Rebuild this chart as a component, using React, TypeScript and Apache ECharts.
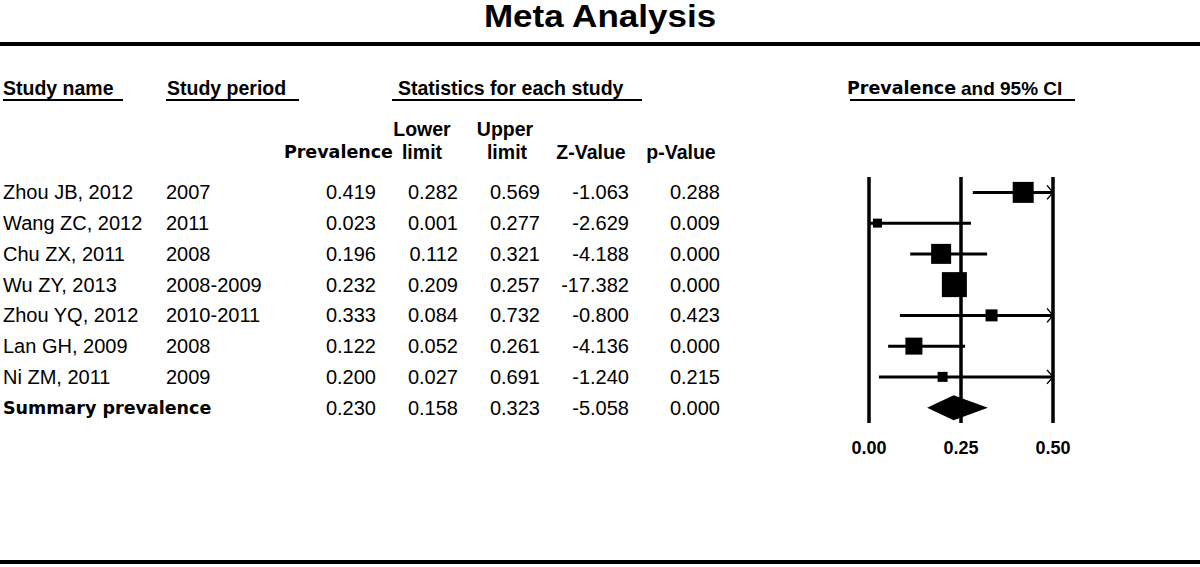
import React, { useEffect, useRef } from "react";
import * as echarts from "echarts";

const studyNames = [
  "Zhou JB, 2012",
  "Wang ZC, 2012",
  "Chu ZX, 2011",
  "Wu ZY, 2013",
  "Zhou YQ, 2012",
  "Lan GH, 2009",
  "Ni ZM, 2011",
  "Summary prevalence",
];
const studyPeriods = ["2007", "2011", "2008", "2008-2009", "2010-2011", "2008", "2009", ""];
const prevalence = [0.419, 0.023, 0.196, 0.232, 0.333, 0.122, 0.2, 0.23];
const lowerLimit = [0.282, 0.001, 0.112, 0.209, 0.084, 0.052, 0.027, 0.158];
const upperLimit = [0.569, 0.277, 0.321, 0.257, 0.732, 0.261, 0.691, 0.323];
const zValues = [-1.063, -2.629, -4.188, -17.382, -0.8, -4.136, -1.24, -5.058];
const pValues = [0.288, 0.009, 0.0, 0.0, 0.423, 0.0, 0.215, 0.0];
// relative study weights shown as square side (px)
const markerSizes = [21, 9, 20, 25, 12, 17, 10];
const axisMin = 0;
const axisMax = 0.5;
const axisStep = 0.25;

const ARIAL = '"Liberation Sans", Arial, sans-serif';
const VERD = '"DejaVu Sans", Verdana, sans-serif';

export default function App() {
  const ref = useRef<HTMLDivElement>(null);
  useEffect(() => {
    document.body.style.margin = "0";
    const chart = echarts.init(ref.current!, null, { renderer: "svg" });
    const nStudies = markerSizes.length;
    const ciData = markerSizes.map((s, i) => [i, prevalence[i], lowerLimit[i], upperLimit[i], s]);
    const sumIdx = nStudies;
    const summaryData = [[sumIdx, prevalence[sumIdx], lowerLimit[sumIdx], upperLimit[sumIdx]]];
    const tableData = studyNames.map((_, i) => [0, i]);

    const txt = (text: string, x: number, y: number, align: string, font: string, extra: any = {}) => ({
      type: "text",
      x,
      y,
      silent: true,
      ...extra,
      style: { text, font, fill: "#000", align, verticalAlign: "middle" },
    });
    const hline = (x1: number, x2: number, y: number, w: number) => ({
      type: "line",
      silent: true,
      shape: { x1, y1: y, x2, y2: y },
      style: { stroke: "#000", lineWidth: w },
    });

    const option: any = {
      animation: false,
      backgroundColor: "#fff",
      grid: { left: 869, width: 184, top: 177, height: 246 },
      xAxis: {
        type: "value",
        min: axisMin,
        max: axisMax,
        interval: axisStep,
        axisLine: { show: false },
        axisTick: { show: false },
        splitLine: { show: true, lineStyle: { color: "#000", width: 3.5 } },
        axisLabel: {
          showMinLabel: true,
          showMaxLabel: true,
          formatter: (v: number) => v.toFixed(2),
          fontWeight: "bold",
          fontSize: 18,
          fontFamily: ARIAL,
          color: "#000",
          margin: 16,
        },
      },
      yAxis: { type: "category", data: studyNames, inverse: true, show: false },
      graphic: [
        txt("Meta Analysis", 600, 16.5, "center", `bold 31px ${ARIAL}`, { scaleX: 1.13 }),
        hline(0, 1200, 44, 4),
        hline(0, 1200, 562, 4),
        txt("Study name", 3, 88, "left", `bold 19.5px ${ARIAL}`),
        txt("Study period", 167, 88, "left", `bold 19.5px ${ARIAL}`),
        txt("Statistics for each study", 398, 88, "left", `bold 19.5px ${ARIAL}`),
        txt("Prevalence", 847, 88, "left", `bold 17.5px ${VERD}`),
        txt("and 95% CI", 961, 88, "left", `bold 19px ${ARIAL}`),
        hline(3, 123, 100, 2),
        hline(166, 299, 100, 2),
        hline(392, 642, 100, 2),
        hline(850, 1075, 100, 2),
        txt("Prevalence", 393, 152, "right", `bold 17.5px ${VERD}`),
        txt("Lower", 422, 128.5, "center", `bold 19.5px ${ARIAL}`),
        txt("limit", 422, 152, "center", `bold 19.5px ${ARIAL}`),
        txt("Upper", 505, 128.5, "center", `bold 19.5px ${ARIAL}`),
        txt("limit", 507, 152, "center", `bold 19.5px ${ARIAL}`),
        txt("Z-Value", 591, 152, "center", `bold 19.5px ${ARIAL}`),
        txt("p-Value", 681, 152, "center", `bold 19.5px ${ARIAL}`),
      ],
      series: [
        {
          type: "custom",
          name: "table",
          silent: true,
          clip: false,
          data: tableData,
          encode: { x: 0, y: 1 },
          renderItem: (params: any, api: any) => {
            const i = api.value(1);
            const y = api.coord([0, i])[1];
            const isSum = i === studyNames.length - 1;
            const f = `20px ${ARIAL}`;
            const mk = (text: string, x: number, align: string, font = f) => ({
              type: "text",
              x,
              y,
              style: { text, font, fill: "#000", align, verticalAlign: "middle" },
            });
            return {
              type: "group",
              children: [
                mk(studyNames[i], 3, "left", isSum ? `bold 17.5px ${VERD}` : f),
                mk(studyPeriods[i], 166, "left"),
                mk(prevalence[i].toFixed(3), 376, "right"),
                mk(lowerLimit[i].toFixed(3), 458, "right"),
                mk(upperLimit[i].toFixed(3), 540, "right"),
                mk(zValues[i].toFixed(3), 629, "right"),
                mk(pValues[i].toFixed(3), 720, "right"),
              ],
            };
          },
        },
        {
          type: "custom",
          name: "studies",
          silent: true,
          clip: false,
          data: ciData,
          encode: { x: [1, 2, 3], y: 0 },
          renderItem: (params: any, api: any) => {
            const i = api.value(0);
            const est = api.value(1);
            const lo = api.value(2);
            const hi = api.value(3);
            const size = api.value(4);
            const capped = Math.min(hi, axisMax);
            const p1 = api.coord([Math.max(lo, axisMin), i]);
            const p2 = api.coord([capped, i]);
            const pc = api.coord([est, i]);
            const children: any[] = [
              {
                type: "line",
                shape: { x1: p1[0], y1: p1[1], x2: p2[0], y2: p2[1] },
                style: { stroke: "#000", lineWidth: 3 },
              },
              {
                type: "rect",
                shape: { x: pc[0] - size / 2, y: pc[1] - size / 2, width: size, height: size },
                style: { fill: "#000" },
              },
            ];
            if (hi > axisMax) {
              children.push({
                type: "polyline",
                shape: {
                  points: [
                    [p2[0] - 6, p2[1] - 7],
                    [p2[0], p2[1]],
                    [p2[0] - 6, p2[1] + 7],
                  ],
                },
                style: { stroke: "#000", lineWidth: 1.5, fill: "none" },
              });
            }
            return { type: "group", children };
          },
        },
        {
          type: "custom",
          name: "summary",
          silent: true,
          clip: false,
          data: summaryData,
          encode: { x: [1, 2, 3], y: 0 },
          renderItem: (params: any, api: any) => {
            const i = api.value(0);
            const c = api.coord([api.value(1), i]);
            const l = api.coord([api.value(2), i]);
            const r = api.coord([api.value(3), i]);
            const h = 12.5;
            return {
              type: "polygon",
              shape: {
                points: [
                  [l[0], c[1]],
                  [c[0], c[1] - h],
                  [r[0], c[1]],
                  [c[0], c[1] + h],
                ],
              },
              style: { fill: "#000" },
            };
          },
        },
      ],
    };
    chart.setOption(option);
    return () => chart.dispose();
  }, []);
  return <div ref={ref} style={{ width: 1200, height: 567 }} />;
}
